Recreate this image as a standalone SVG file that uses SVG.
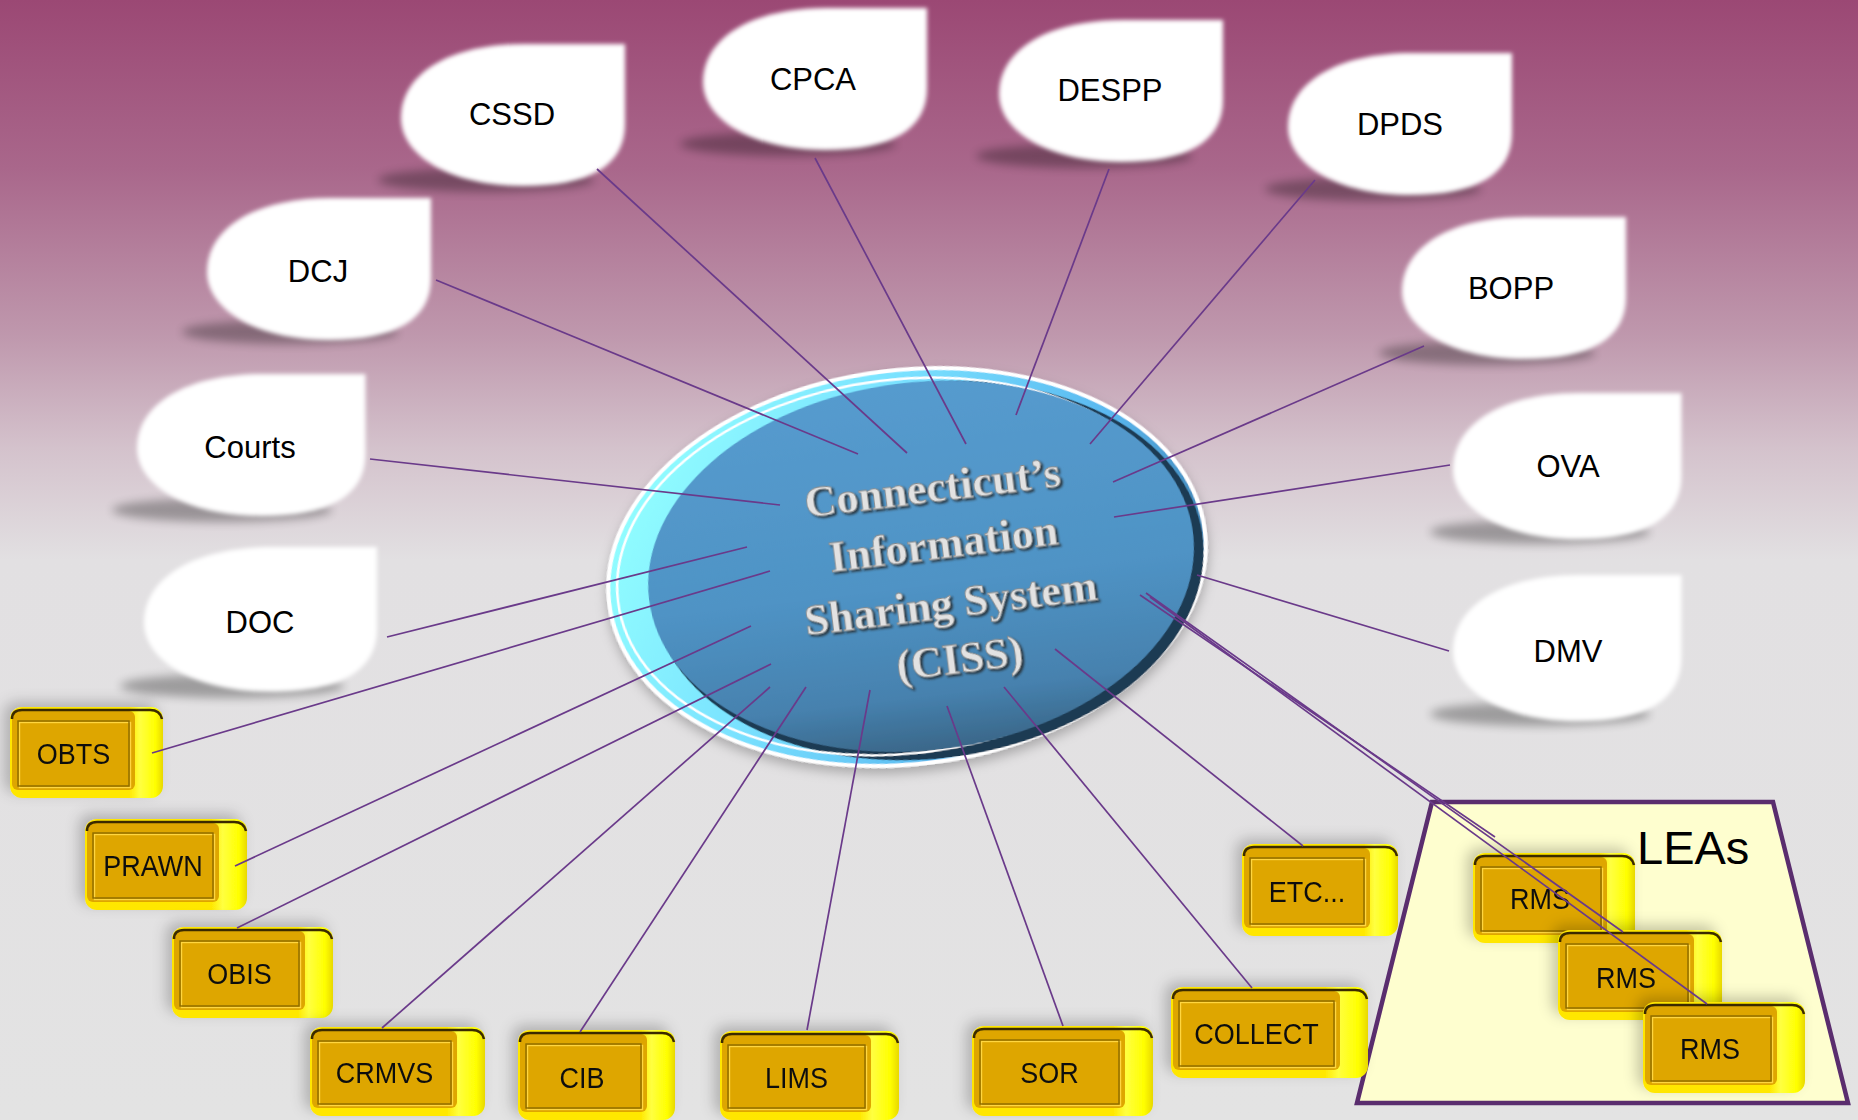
<svg xmlns="http://www.w3.org/2000/svg" xmlns:xlink="http://www.w3.org/1999/xlink" width="1858" height="1120" viewBox="0 0 1858 1120">
<defs>
  <linearGradient id="bg" x1="0" y1="0" x2="0" y2="1">
    <stop offset="0" stop-color="#9b4874"/>
    <stop offset="0.15" stop-color="#a9678b"/>
    <stop offset="0.3" stop-color="#bf98ad"/>
    <stop offset="0.4" stop-color="#d4c2cc"/>
    <stop offset="0.5" stop-color="#e2e0e2"/>
    <stop offset="1" stop-color="#e3e3e3"/>
  </linearGradient>
  <linearGradient id="ring" x1="0" y1="0.3" x2="1" y2="0.7">
    <stop offset="0" stop-color="#92ffff"/>
    <stop offset="0.35" stop-color="#7ae2ff"/>
    <stop offset="0.7" stop-color="#5ab8f0"/>
    <stop offset="1" stop-color="#3a78a8"/>
  </linearGradient>
  <linearGradient id="face" x1="0" y1="0" x2="0" y2="1">
    <stop offset="0" stop-color="#559bce"/>
    <stop offset="0.55" stop-color="#4f93c5"/>
    <stop offset="0.85" stop-color="#4681ae"/>
    <stop offset="1" stop-color="#3a6789"/>
  </linearGradient>
  <linearGradient id="side" x1="0" y1="0" x2="1" y2="0">
    <stop offset="0" stop-color="#ffe600"/>
    <stop offset="0.78" stop-color="#ffe800"/>
    <stop offset="0.85" stop-color="#ffff40"/>
    <stop offset="0.95" stop-color="#ffff00"/>
    <stop offset="1" stop-color="#e8d800"/>
  </linearGradient>
  <filter id="soft" x="-10%" y="-10%" width="120%" height="120%">
    <feGaussianBlur stdDeviation="2.2"/>
  </filter>
  <filter id="shblur" x="-30%" y="-100%" width="160%" height="300%">
    <feGaussianBlur stdDeviation="5"/>
  </filter>
  <filter id="bsh" x="-20%" y="-30%" width="140%" height="160%">
    <feDropShadow dx="-6" dy="-5" stdDeviation="7" flood-color="#000" flood-opacity="0.22"/>
  </filter>
  <filter id="esh" x="-10%" y="-10%" width="120%" height="130%">
    <feDropShadow dx="0" dy="6" stdDeviation="6" flood-color="#000" flood-opacity="0.25"/>
  </filter>
  <filter id="tsh" x="-10%" y="-30%" width="120%" height="160%">
    <feDropShadow dx="2" dy="2" stdDeviation="1.2" flood-color="#222" flood-opacity="0.8"/>
  </filter>
  <path id="blob" d="M 224 0 L 224 80 C 224 122, 188 142, 122 142 C 50 142, 0 112, 0 74 C 0 30, 48 0, 124 0 Z"/>
  <style>
    .bt{font-family:"Liberation Sans",Arial,sans-serif;font-size:31px;fill:#000;text-anchor:middle}
    .bl{font-family:"Liberation Sans",Arial,sans-serif;font-size:30px;fill:#111;text-anchor:middle}
    .ct{font-family:"Liberation Serif","Times New Roman",serif;font-weight:bold;font-size:44px;fill:#e2e2e2;stroke:#8a8a8a;stroke-width:0.8;text-anchor:middle}
    .c{stroke:#6a3a8a;stroke-width:1.7;fill:none}
    .bshadow{fill:#000;opacity:0.3}
    .bw{fill:#fff}
    .side{fill:url(#side)}
    .top{fill:none;stroke:#3a2c00;stroke-width:2.5}
    .fc{fill:#dea600}
    .in{fill:none;stroke:#8c6a00;stroke-width:1.4}
    .hl{fill:none;stroke:#ffd640;stroke-width:1.4}
  </style>
</defs>

<rect x="0" y="0" width="1858" height="1120" fill="url(#bg)"/>

<!-- LEAs trapezoid -->
<g id="leas">
  <polygon points="1432,802 1773,802 1848,1103 1357,1103" fill="#fefecf" stroke="#5a2d6e" stroke-width="4.5" stroke-linejoin="miter"/>
  <text x="1637" y="864" font-family="Liberation Sans, Arial, sans-serif" font-size="47" fill="#000">LEAs</text>
</g>

<!-- agency blobs -->
<g id="cssd"><ellipse class="bshadow" cx="486" cy="180" rx="108" ry="12" filter="url(#shblur)"/><use href="#blob" class="bw" transform="translate(401,44)" filter="url(#soft)"/><text class="bt" x="512" y="125">CSSD</text></g>
<g id="cpca"><ellipse class="bshadow" cx="788" cy="144" rx="108" ry="12" filter="url(#shblur)"/><use href="#blob" class="bw" transform="translate(703,8)" filter="url(#soft)"/><text class="bt" x="813" y="90">CPCA</text></g>
<g id="despp"><ellipse class="bshadow" cx="1084" cy="156" rx="108" ry="12" filter="url(#shblur)"/><use href="#blob" class="bw" transform="translate(999,20)" filter="url(#soft)"/><text class="bt" x="1110" y="101">DESPP</text></g>
<g id="dpds"><ellipse class="bshadow" cx="1373" cy="189" rx="108" ry="12" filter="url(#shblur)"/><use href="#blob" class="bw" transform="translate(1288,53)" filter="url(#soft)"/><text class="bt" x="1400" y="135">DPDS</text></g>
<g id="bopp"><ellipse class="bshadow" cx="1487" cy="353" rx="108" ry="12" filter="url(#shblur)"/><use href="#blob" class="bw" transform="translate(1402,217)" filter="url(#soft)"/><text class="bt" x="1511" y="299">BOPP</text></g>
<g id="ova"><ellipse class="bshadow" cx="1540" cy="532" rx="110" ry="12" filter="url(#shblur)"/><use href="#blob" class="bw" transform="translate(1453,393) scale(1.02,1.03)" filter="url(#soft)"/><text class="bt" x="1568" y="477">OVA</text></g>
<g id="dmv"><ellipse class="bshadow" cx="1540" cy="714" rx="110" ry="12" filter="url(#shblur)"/><use href="#blob" class="bw" transform="translate(1453,575) scale(1.02,1.03)" filter="url(#soft)"/><text class="bt" x="1568" y="662">DMV</text></g>
<g id="dcj"><ellipse class="bshadow" cx="290" cy="332" rx="108" ry="12" filter="url(#shblur)"/><use href="#blob" class="bw" transform="translate(207,198)" filter="url(#soft)"/><text class="bt" x="318" y="282">DCJ</text></g>
<g id="courts"><ellipse class="bshadow" cx="222" cy="510" rx="110" ry="12" filter="url(#shblur)"/><use href="#blob" class="bw" transform="translate(137,374) scale(1.02,1)" filter="url(#soft)"/><text class="bt" x="250" y="458">Courts</text></g>
<g id="doc"><ellipse class="bshadow" cx="232" cy="686" rx="112" ry="12" filter="url(#shblur)"/><use href="#blob" class="bw" transform="translate(144,547) scale(1.04,1.02)" filter="url(#soft)"/><text class="bt" x="260" y="633">DOC</text></g>

<!-- central hub -->
<g id="ciss">
  <g transform="translate(907,567) rotate(-7)" filter="url(#esh)">
    <ellipse rx="302" ry="199" fill="#ffffff"/>
    <ellipse rx="298" ry="195" fill="url(#ring)"/>
    <ellipse cx="20" cy="6" rx="277" ry="188" fill="#1d3a52"/>
    <ellipse cx="-4" cy="-1" rx="287" ry="187" fill="none" stroke="#ffffff" stroke-width="2.5"/>
    <ellipse cx="14" cy="1" rx="274" ry="184" fill="url(#face)"/>
  </g>
  <g transform="translate(947,573) rotate(-7)" filter="url(#tsh)">
    <text class="ct" x="-4" y="-72">Connecticut’s</text>
    <text class="ct" x="0" y="-15">Information</text>
    <text class="ct" x="0" y="45">Sharing System</text>
    <text class="ct" x="2" y="101">(CISS)</text>
  </g>
</g>

<!-- system boxes -->
<g id="obts" transform="translate(10,707)" filter="url(#bsh)">
  <rect class="side" width="153" height="91" rx="12"/><rect class="fc" x="2" y="4" width="123" height="79" rx="6"/>
  <rect class="hl" x="9.5" y="15.5" width="111" height="65"/><rect class="in" x="8" y="14" width="111" height="65"/>
  <path class="top" d="M2,12 Q2,3 12,3 L140,3 Q150,3 152,12"/>
  <text class="bl" transform="translate(63.5,57) scale(0.9,1)">OBTS</text>
</g>
<g id="prawn" transform="translate(85,819)" filter="url(#bsh)">
  <rect class="side" width="162" height="91" rx="12"/><rect class="fc" x="2" y="4" width="132" height="79" rx="6"/>
  <rect class="hl" x="9.5" y="15.5" width="120" height="65"/><rect class="in" x="8" y="14" width="120" height="65"/>
  <path class="top" d="M2,12 Q2,3 12,3 L149,3 Q159,3 161,12"/>
  <text class="bl" transform="translate(68,57) scale(0.9,1)">PRAWN</text>
</g>
<g id="obis" transform="translate(172,927)" filter="url(#bsh)">
  <rect class="side" width="161" height="91" rx="12"/><rect class="fc" x="2" y="4" width="131" height="79" rx="6"/>
  <rect class="hl" x="9.5" y="15.5" width="119" height="65"/><rect class="in" x="8" y="14" width="119" height="65"/>
  <path class="top" d="M2,12 Q2,3 12,3 L148,3 Q158,3 160,12"/>
  <text class="bl" transform="translate(67.5,57) scale(0.9,1)">OBIS</text>
</g>
<g id="crmvs" transform="translate(310,1027)" filter="url(#bsh)">
  <rect class="side" width="175" height="89" rx="12"/><rect class="fc" x="2" y="4" width="145" height="77" rx="6"/>
  <rect class="hl" x="9.5" y="15.5" width="133" height="63"/><rect class="in" x="8" y="14" width="133" height="63"/>
  <path class="top" d="M2,12 Q2,3 12,3 L162,3 Q172,3 174,12"/>
  <text class="bl" transform="translate(74.5,56) scale(0.9,1)">CRMVS</text>
</g>
<g id="cib" transform="translate(518,1030)" filter="url(#bsh)">
  <rect class="side" width="157" height="90" rx="12"/><rect class="fc" x="2" y="4" width="127" height="78" rx="6"/>
  <rect class="hl" x="9.5" y="15.5" width="115" height="64"/><rect class="in" x="8" y="14" width="115" height="64"/>
  <path class="top" d="M2,12 Q2,3 12,3 L144,3 Q154,3 156,12"/>
  <text class="bl" transform="translate(64,58) scale(0.9,1)">CIB</text>
</g>
<g id="lims" transform="translate(720,1031)" filter="url(#bsh)">
  <rect class="side" width="179" height="89" rx="12"/><rect class="fc" x="2" y="4" width="149" height="77" rx="6"/>
  <rect class="hl" x="9.5" y="15.5" width="137" height="63"/><rect class="in" x="8" y="14" width="137" height="63"/>
  <path class="top" d="M2,12 Q2,3 12,3 L166,3 Q176,3 178,12"/>
  <text class="bl" transform="translate(76.5,57) scale(0.9,1)">LIMS</text>
</g>
<g id="sor" transform="translate(972,1026)" filter="url(#bsh)">
  <rect class="side" width="181" height="90" rx="12"/><rect class="fc" x="2" y="4" width="151" height="78" rx="6"/>
  <rect class="hl" x="9.5" y="15.5" width="139" height="64"/><rect class="in" x="8" y="14" width="139" height="64"/>
  <path class="top" d="M2,12 Q2,3 12,3 L168,3 Q178,3 180,12"/>
  <text class="bl" transform="translate(77.5,57) scale(0.9,1)">SOR</text>
</g>
<g id="collect" transform="translate(1171,987)" filter="url(#bsh)">
  <rect class="side" width="197" height="91" rx="12"/><rect class="fc" x="2" y="4" width="167" height="79" rx="6"/>
  <rect class="hl" x="9.5" y="15.5" width="155" height="65"/><rect class="in" x="8" y="14" width="155" height="65"/>
  <path class="top" d="M2,12 Q2,3 12,3 L184,3 Q194,3 196,12"/>
  <text class="bl" transform="translate(85.5,57) scale(0.9,1)">COLLECT</text>
</g>
<g id="etc" transform="translate(1242,844)" filter="url(#bsh)">
  <rect class="side" width="156" height="92" rx="12"/><rect class="fc" x="2" y="4" width="126" height="80" rx="6"/>
  <rect class="hl" x="9.5" y="15.5" width="114" height="66"/><rect class="in" x="8" y="14" width="114" height="66"/>
  <path class="top" d="M2,12 Q2,3 12,3 L143,3 Q153,3 155,12"/>
  <text class="bl" transform="translate(65,58) scale(0.9,1)">ETC...</text>
</g>
<g id="rms1" transform="translate(1473,853)" filter="url(#bsh)">
  <rect class="side" width="162" height="90" rx="12"/><rect class="fc" x="2" y="4" width="132" height="78" rx="6"/>
  <rect class="hl" x="9.5" y="15.5" width="120" height="64"/><rect class="in" x="8" y="14" width="120" height="64"/>
  <path class="top" d="M2,12 Q2,3 12,3 L149,3 Q159,3 161,12"/>
  <text class="bl" transform="translate(67,56) scale(0.9,1)">RMS</text>
</g>
<g id="rms2" transform="translate(1558,930)" filter="url(#bsh)">
  <rect class="side" width="164" height="90" rx="12"/><rect class="fc" x="2" y="4" width="134" height="78" rx="6"/>
  <rect class="hl" x="9.5" y="15.5" width="122" height="64"/><rect class="in" x="8" y="14" width="122" height="64"/>
  <path class="top" d="M2,12 Q2,3 12,3 L151,3 Q161,3 163,12"/>
  <text class="bl" transform="translate(68,58) scale(0.9,1)">RMS</text>
</g>
<g id="rms3" transform="translate(1643,1002)" filter="url(#bsh)">
  <rect class="side" width="162" height="91" rx="12"/><rect class="fc" x="2" y="4" width="132" height="79" rx="6"/>
  <rect class="hl" x="9.5" y="15.5" width="120" height="65"/><rect class="in" x="8" y="14" width="120" height="65"/>
  <path class="top" d="M2,12 Q2,3 12,3 L149,3 Q159,3 161,12"/>
  <text class="bl" transform="translate(67,57) scale(0.9,1)">RMS</text>
</g>

<!-- connectors -->
<g id="connectors">
  <line class="c" x1="597" y1="169" x2="907" y2="453"/>
  <line class="c" x1="815" y1="158" x2="966" y2="444"/>
  <line class="c" x1="1109" y1="169" x2="1016" y2="415"/>
  <line class="c" x1="1315" y1="180" x2="1090" y2="444"/>
  <line class="c" x1="1424" y1="346" x2="1113" y2="482"/>
  <line class="c" x1="1450" y1="465" x2="1114" y2="517"/>
  <line class="c" x1="1449" y1="651" x2="1197" y2="575"/>
  <line class="c" x1="436" y1="280" x2="858" y2="454"/>
  <line class="c" x1="370" y1="459" x2="780" y2="505"/>
  <line class="c" x1="387" y1="637" x2="747" y2="547"/>
  <line class="c" x1="152" y1="753" x2="770" y2="571"/>
  <line class="c" x1="235" y1="866" x2="751" y2="626"/>
  <line class="c" x1="237" y1="928" x2="771" y2="664"/>
  <line class="c" x1="382" y1="1028" x2="770" y2="687"/>
  <line class="c" x1="580" y1="1032" x2="806" y2="687"/>
  <line class="c" x1="807" y1="1030" x2="870" y2="690"/>
  <line class="c" x1="1063" y1="1026" x2="947" y2="706"/>
  <line class="c" x1="1252" y1="988" x2="1004" y2="687"/>
  <line class="c" x1="1303" y1="846" x2="1055" y2="649"/>
  <line class="c" x1="1140" y1="595" x2="1495" y2="837"/>
  <line class="c" x1="1146" y1="593" x2="1623" y2="932"/>
  <line class="c" x1="1150" y1="597" x2="1707" y2="1004"/>
</g>
</svg>
